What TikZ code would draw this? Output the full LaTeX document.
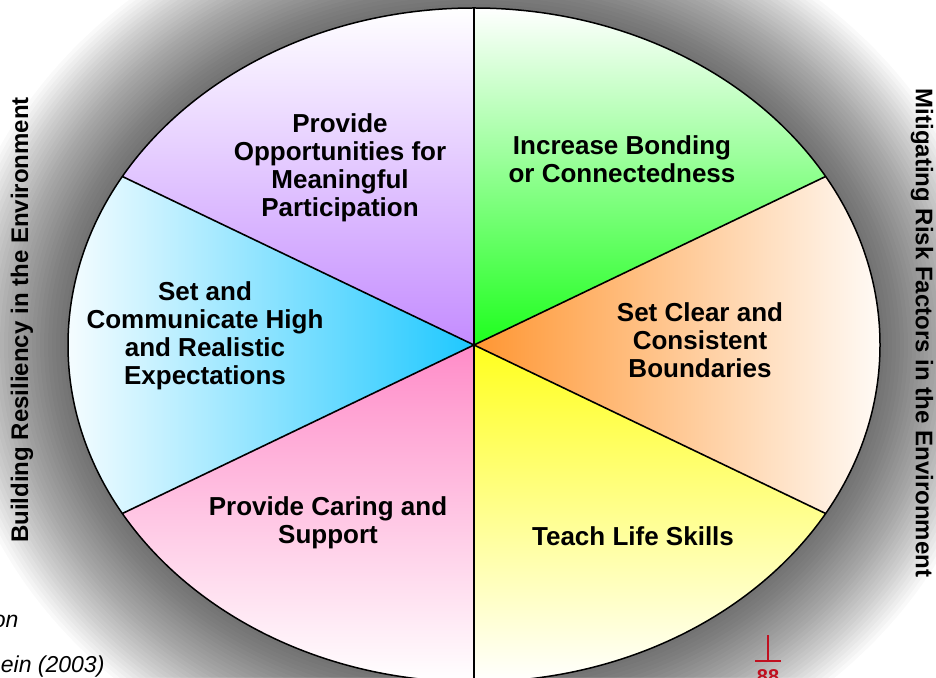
\documentclass[tikz,border=0pt]{standalone}
\usepackage{fontspec}
\setmainfont{Liberation Sans}
\definecolor{lilac}{RGB}{196,140,255}
\definecolor{bondgreen}{RGB}{30,255,30}
\definecolor{skyblue}{RGB}{30,200,255}
\definecolor{caringpink}{RGB}{255,140,200}
\definecolor{skillyellow}{RGB}{255,255,30}
\definecolor{boundorange}{RGB}{255,150,50}
\definecolor{markred}{RGB}{192,16,32}
\begin{document}
\begin{tikzpicture}[
		x=1pt, y=1pt,
		% tekst u klinovima
		wedgetext/.style={font=\bfseries\fontsize{26}{28}\selectfont, align=center},
		sidetext/.style={font=\bfseries\fontsize{24}{26}\selectfont},
		fragtext/.style={font=\itshape\fontsize{23}{26}\selectfont, anchor=base east},
		wedgeline/.style={draw=black, line width=1.6pt},
		]
		\useasboundingbox (0,0) rectangle (936,677);
		\fill[white] (0,0) rectangle (936,677);
		\coordinate (c) at (474,332);
		% sjena oko elipse
		\foreach \i in {1,...,30}
			\fill[black, opacity=0.022] (c) ellipse [x radius=406+4*\i, y radius=337+4*\i];
		% klinovi
		\shade[top color=white, bottom color=bondgreen] (c) -- ++(30:406pt and 337pt) arc[start angle=30, end angle=90, x radius=406pt, y radius=337pt] -- cycle;
		\shade[top color=white, bottom color=lilac] (c) -- ++(90:406pt and 337pt) arc[start angle=90, end angle=150, x radius=406pt, y radius=337pt] -- cycle;
		\shade[left color=white, right color=skyblue] (c) -- ++(150:406pt and 337pt) arc[start angle=150, end angle=210, x radius=406pt, y radius=337pt] -- cycle;
		\shade[top color=caringpink, bottom color=white] (c) -- ++(210:406pt and 337pt) arc[start angle=210, end angle=270, x radius=406pt, y radius=337pt] -- cycle;
		\shade[top color=skillyellow, bottom color=white] (c) -- ++(270:406pt and 337pt) arc[start angle=270, end angle=330, x radius=406pt, y radius=337pt] -- cycle;
		\shade[left color=boundorange, right color=white] (c) -- ++(-30:406pt and 337pt) arc[start angle=-30, end angle=30, x radius=406pt, y radius=337pt] -- cycle;
		% granice
		\path (c) ++(30:406pt and 337pt) coordinate (p30);
		\path (c) ++(90:406pt and 337pt) coordinate (p90);
		\path (c) ++(150:406pt and 337pt) coordinate (p150);
		\path (c) ++(210:406pt and 337pt) coordinate (p210);
		\path (c) ++(270:406pt and 337pt) coordinate (p270);
		\path (c) ++(330:406pt and 337pt) coordinate (p330);
		\draw[wedgeline] (p90) -- (p270);
		\draw[wedgeline] (p150) -- (p330);
		\draw[wedgeline] (p30) -- (p210);
		\draw[line width=1.5pt] (c) ellipse [x radius=406, y radius=337];
		% tekstovi
		\node[wedgetext] (bonding) at (622,518) {Increase Bonding\\or Connectedness};
		\node[wedgetext] (opportunities) at (340,509) {Provide\\Opportunities for\\Meaningful\\Participation};
		\node[wedgetext] (expectations) at (205,341) {Set and\\Communicate High\\and Realistic\\Expectations};
		\node[wedgetext] (caring) at (328,154) {Provide Caring and\\Support};
		\node[wedgetext] (skills) at (633,141) {Teach Life Skills};
		\node[wedgetext] (boundaries) at (700,337) {Set Clear and\\Consistent\\Boundaries};
		\node[sidetext, rotate=90] (resiliency) at (22,357) {Building Resiliency in the Environment};
		\node[sidetext, rotate=-90] (mitigating) at (922,344) {Mitigating Risk Factors in the Environment};
		\node[fragtext] (fragon) at (22,50) {on};
		\node[fragtext] (fragyear) at (108,5) {ein (2003)};
		% crveni znak
		\coordinate (marktop) at (768,42);
		\coordinate (markfoot) at (768,16);
		\coordinate (markleft) at (755,16);
		\coordinate (markright) at (781,16);
		\draw[markred, line width=2pt] (marktop) -- (markfoot);
		\draw[markred, line width=2pt] (markleft) -- (markright);
		\node[text=markred, font=\bfseries\fontsize{20}{20}\selectfont, anchor=north, inner sep=0pt] (markdigits) at (768,8) {88};
	\end{tikzpicture}
\end{document}
